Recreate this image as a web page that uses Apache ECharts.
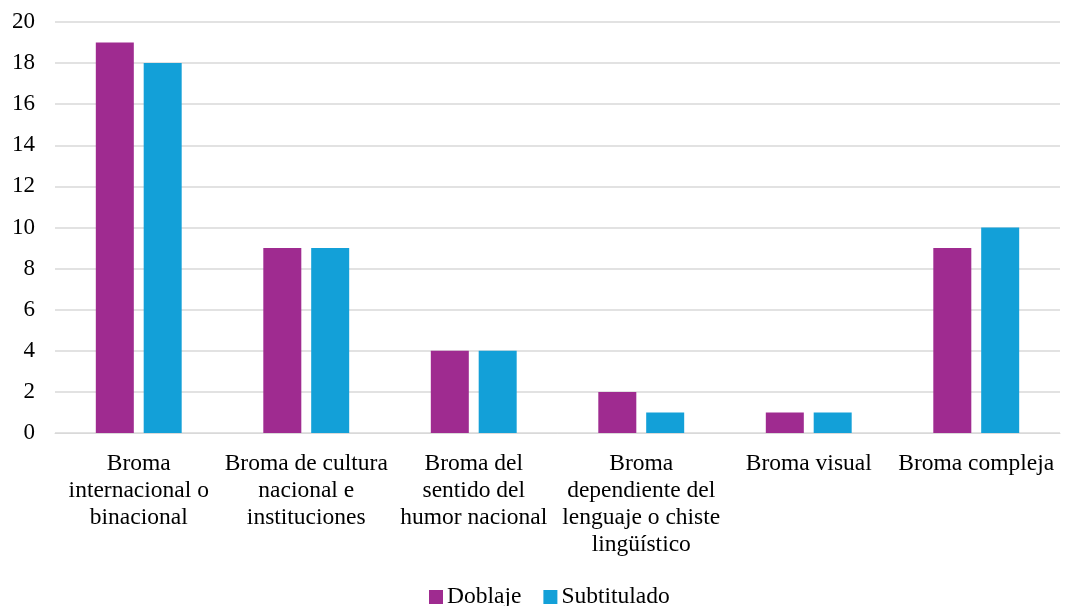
<!DOCTYPE html>
<html>
<head>
<meta charset="utf-8">
<script src="https://cdn.jsdelivr.net/npm/echarts@6/dist/echarts.min.js"></script>
<style>
  html, body { margin: 0; padding: 0; background: #fff; }
  #chart { width: 1065px; height: 606px; }
</style>
</head>
<body>
<div id="chart"></div>
<script>
const categories = [
  'Broma\ninternacional o\nbinacional',
  'Broma de cultura\nnacional e\ninstituciones',
  'Broma del\nsentido del\nhumor nacional',
  'Broma\ndependiente del\nlenguaje o chiste\nlingüístico',
  'Broma visual',
  'Broma compleja'
]
const doblaje = [19, 9, 4, 2, 1, 9]
const subtitulado = [18, 9, 4, 1, 1, 10]

const font = '"Liberation Serif", "Times New Roman", serif'
const chart = echarts.init(document.getElementById('chart'))

chart.setOption({
  animation: false,
  textStyle: { fontFamily: font },
  grid: { left: 55, right: 5, top: 22, bottom: 173 },
  legend: {
    bottom: -8,
    left: 424,
    itemWidth: 14,
    itemHeight: 14,
    itemGap: 22,
    itemStyle: { borderWidth: 0 },
    icon: 'rect',
    textStyle: { fontFamily: font, fontSize: 23.5, color: '#000', padding: [0, 0, 0, -1] },
    data: ['Doblaje', 'Subtitulado']
  },
  xAxis: {
    type: 'category',
    data: categories,
    axisLine: { show: true, lineStyle: { color: '#d9d9d9', width: 1 } },
    axisTick: { show: false },
    axisLabel: {
      interval: 0,
      margin: 17,
      fontFamily: font,
      fontSize: 23.5,
      lineHeight: 27,
      color: '#000'
    }
  },
  yAxis: {
    type: 'value',
    min: 0,
    max: 20,
    interval: 2,
    axisLine: { show: false },
    axisTick: { show: false },
    splitLine: { lineStyle: { color: '#d9d9d9', width: 1.5 } },
    axisLabel: { margin: 20, fontFamily: font, fontSize: 23, color: '#000' }
  },
  series: [
    {
      name: 'Doblaje',
      type: 'bar',
      data: doblaje,
      barWidth: 38,
      barGap: '26%',
      itemStyle: { color: '#9f2b90' }
    },
    {
      name: 'Subtitulado',
      type: 'bar',
      data: subtitulado,
      barWidth: 38,
      itemStyle: { color: '#13a0d8' }
    }
  ]
})
</script>
</body>
</html>
